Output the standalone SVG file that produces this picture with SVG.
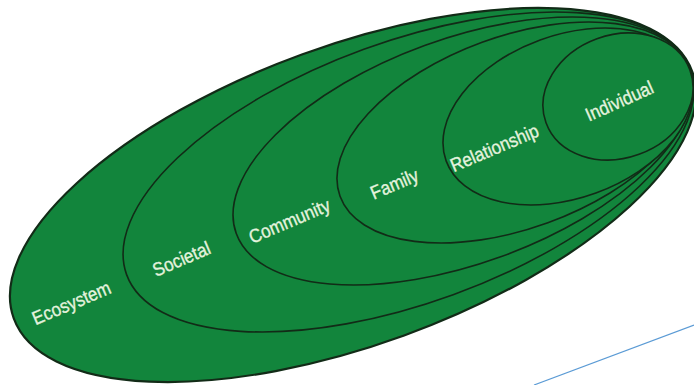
<svg xmlns="http://www.w3.org/2000/svg" width="694" height="385" viewBox="0 0 694 385">
  <style>
    .ring { fill: #12853c; stroke: #122b17; stroke-width: 1.6; }
    .outer { stroke-width: 2.2; }
    .lbl { font-family: "Liberation Sans", Arial, sans-serif; font-size: 19px; fill: #e4f3de; stroke: #e4f3de; stroke-width: 0.35; text-anchor: middle; }
    .line { stroke: #5b9bd5; stroke-width: 1.2; fill: none; }
  </style>
  <rect width="694" height="385" fill="#ffffff"/>
  <g id="ecosystem">
    <ellipse class="ring outer" cx="353" cy="195" rx="361" ry="149.5" transform="rotate(-20 353 195)"/>
    <text class="lbl" transform="translate(74 309) rotate(-23) scale(0.9 1)">Ecosystem</text>
  </g>
  <g id="societal">
    <ellipse class="ring" cx="408.5" cy="172" rx="300" ry="130.6" transform="rotate(-20 408.5 172)"/>
    <text class="lbl" transform="translate(184 265) rotate(-23) scale(0.9 1)">Societal</text>
  </g>
  <g id="community">
    <ellipse class="ring" cx="463" cy="151" rx="241.3" ry="112.3" transform="rotate(-20 463 151)"/>
    <text class="lbl" transform="translate(292 227) rotate(-23) scale(0.9 1)">Community</text>
  </g>
  <g id="family">
    <ellipse class="ring" cx="515" cy="132.5" rx="186.2" ry="96.1" transform="rotate(-20 515 132.5)"/>
    <text class="lbl" transform="translate(397 190) rotate(-23) scale(0.9 1)">Family</text>
  </g>
  <g id="relationship">
    <ellipse class="ring" cx="568" cy="116.5" rx="129.7" ry="81.5" transform="rotate(-20 568 116.5)"/>
    <text class="lbl" transform="translate(497 154) rotate(-23) scale(0.9 1)">Relationship</text>
  </g>
  <g id="individual">
    <ellipse class="ring" cx="618" cy="96.5" rx="76.6" ry="61.5" transform="rotate(-20 618 96.5)"/>
    <text class="lbl" transform="translate(622 107) rotate(-24) scale(0.9 1)">Individual</text>
  </g>
  <g id="connectors">
    <line class="line" x1="534" y1="385" x2="694" y2="325"/>
  </g>
</svg>
